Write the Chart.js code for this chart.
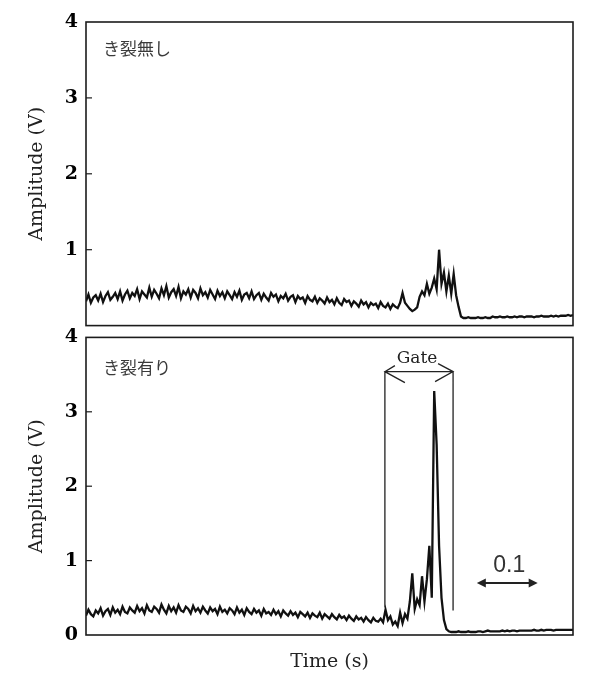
<!DOCTYPE html>
<html>
<head>
<meta charset="utf-8">
<title>Amplitude traces</title>
<script src="https://cdn.jsdelivr.net/npm/chart.js@4.4.1/dist/chart.umd.min.js"></script>
<style>
  html, body { margin: 0; padding: 0; background: #fff; }
  #wrap { position: relative; width: 595px; height: 680px; }
  #wrap canvas { position: absolute; left: 0; }
  #topChart { top: 0; }
  #bottomChart { top: 318px; }
</style>
</head>
<body>
<div id="wrap">
  <canvas id="topChart" width="595" height="345"></canvas>
  <canvas id="bottomChart" width="595" height="362"></canvas>
</div>
<script>
// Sample spacing of the recorded traces (s)
var sampleStep = 0.004;
var timeMax = 0.8;

// Amplitude (V), no crack
var noCrack = [
  0.32, 0.41, 0.30, 0.37, 0.40, 0.33, 0.42, 0.31, 0.39, 0.44,
  0.34, 0.38, 0.43, 0.35, 0.45, 0.33, 0.41, 0.46, 0.36, 0.43,
  0.39, 0.48, 0.35, 0.45, 0.41, 0.37, 0.50, 0.38, 0.47, 0.42,
  0.36, 0.49, 0.40, 0.52, 0.37, 0.44, 0.48, 0.39, 0.51, 0.36,
  0.45, 0.41, 0.48, 0.37, 0.47, 0.43, 0.36, 0.49, 0.40, 0.44,
  0.37, 0.47, 0.41, 0.35, 0.46, 0.39, 0.44, 0.36, 0.45, 0.40,
  0.35, 0.44, 0.38, 0.46, 0.34, 0.41, 0.43, 0.36, 0.45, 0.35,
  0.40, 0.43, 0.34, 0.42, 0.37, 0.33, 0.43, 0.38, 0.41, 0.32,
  0.39, 0.36, 0.42, 0.33, 0.38, 0.40, 0.31, 0.39, 0.35, 0.37,
  0.30, 0.39, 0.34, 0.32, 0.38, 0.30, 0.36, 0.33, 0.29, 0.37,
  0.31, 0.34, 0.28, 0.36, 0.30, 0.27, 0.35, 0.31, 0.33, 0.26,
  0.32, 0.29, 0.25, 0.33, 0.28, 0.31, 0.24, 0.30, 0.27, 0.29,
  0.23, 0.31, 0.26, 0.24, 0.29, 0.22, 0.28, 0.25, 0.23, 0.30,
  0.43, 0.30, 0.26, 0.22, 0.19, 0.21, 0.24, 0.38, 0.45, 0.40,
  0.55, 0.42, 0.50, 0.62, 0.48, 1.00, 0.55, 0.70, 0.45, 0.66,
  0.42, 0.68, 0.40, 0.25, 0.12, 0.10, 0.10, 0.11, 0.10, 0.10,
  0.10, 0.11, 0.10, 0.10, 0.11, 0.10, 0.10, 0.12, 0.11, 0.11,
  0.12, 0.11, 0.11, 0.12, 0.11, 0.11, 0.12, 0.11, 0.12, 0.12,
  0.11, 0.12, 0.12, 0.12, 0.11, 0.12, 0.12, 0.13, 0.12, 0.12,
  0.12, 0.13, 0.12, 0.13, 0.12, 0.13, 0.13, 0.13, 0.14, 0.13, 0.14
];

// Amplitude (V), with crack
var withCrack = [
  0.26, 0.34, 0.28, 0.25, 0.33, 0.29, 0.36, 0.26, 0.32, 0.35,
  0.27, 0.37, 0.30, 0.34, 0.28, 0.38, 0.31, 0.29, 0.37, 0.33,
  0.30, 0.39, 0.32, 0.36, 0.29, 0.40, 0.33, 0.31, 0.38, 0.35,
  0.30, 0.41, 0.34, 0.29, 0.39, 0.32, 0.37, 0.30, 0.40, 0.33,
  0.31, 0.38, 0.35, 0.29, 0.39, 0.32, 0.36, 0.30, 0.38, 0.33,
  0.29, 0.37, 0.32, 0.35, 0.28, 0.38, 0.31, 0.34, 0.29, 0.36,
  0.33, 0.28, 0.37, 0.30, 0.34, 0.27, 0.36, 0.31, 0.28, 0.35,
  0.30, 0.33, 0.26, 0.35, 0.29, 0.31, 0.27, 0.34, 0.28, 0.32,
  0.25, 0.33, 0.29, 0.26, 0.32, 0.27, 0.30, 0.24, 0.31, 0.28,
  0.25, 0.30, 0.23, 0.29, 0.26, 0.24, 0.30, 0.22, 0.28, 0.25,
  0.22, 0.28, 0.24, 0.21, 0.27, 0.23, 0.25, 0.20, 0.26, 0.22,
  0.19, 0.25, 0.21, 0.23, 0.18, 0.24, 0.20, 0.17, 0.23, 0.19,
  0.18, 0.22, 0.17, 0.34, 0.20, 0.25, 0.14, 0.18, 0.12, 0.30,
  0.16, 0.28, 0.22, 0.45, 0.83, 0.35, 0.48, 0.40, 0.79, 0.45,
  0.75, 1.20, 0.50, 3.28, 2.56, 1.20, 0.50, 0.20, 0.08, 0.05,
  0.04, 0.04, 0.04, 0.05, 0.04, 0.04, 0.04, 0.05, 0.04, 0.04,
  0.04, 0.05, 0.05, 0.04, 0.05, 0.06, 0.05, 0.05, 0.05, 0.05,
  0.05, 0.06, 0.05, 0.06, 0.05, 0.06, 0.06, 0.05, 0.06, 0.06,
  0.06, 0.06, 0.06, 0.06, 0.07, 0.06, 0.06, 0.07, 0.06, 0.07,
  0.07, 0.07, 0.06, 0.07, 0.07, 0.07, 0.07, 0.07, 0.07, 0.07, 0.07
];

var yTicks = [0, 1, 2, 3, 4];
var panelLabels = ['き裂無し', 'き裂有り'];

// Gate window (s) and bracket heights (V)
var gateTimes = [0.491, 0.603];
var gateTop = 3.54;
var gateBottoms = [0.37, 0.33];

// 0.1 s scale bar
var scaleBarTimes = [0.642, 0.742];
var scaleBarLevel = 0.70;
var scaleBarText = '0.1';

function toPoints(values) {
    return values.map(function (v, i) {
        return {x: i * sampleStep, y: v};
    });
}

// Frame, inward ticks and annotations
var panelDecor = {
    id: 'panelDecor',
    afterDraw: function (chart, args, opts) {
        var ctx = chart.ctx;
        var a = chart.chartArea;
        var xs = chart.scales.x;
        var ys = chart.scales.y;
        ctx.save();

        ctx.strokeStyle = '#1c1c1c';
        ctx.lineWidth = 1.6;
        ctx.strokeRect(a.left, a.top, a.right - a.left, a.bottom - a.top);

        ctx.lineWidth = 1.2;
        [1, 2, 3].forEach(function (v) {
            var py = ys.getPixelForValue(v);
            ctx.beginPath();
            ctx.moveTo(a.left, py);
            ctx.lineTo(a.left + 6, py);
            ctx.stroke();
        });

        ctx.fillStyle = '#3a3a3a';
        ctx.font = '17px "Noto Sans CJK JP"';
        ctx.textBaseline = 'middle';
        ctx.textAlign = 'left';
        ctx.fillText(opts.label, a.left + 17, a.top + opts.labelDy);

        if (opts.gate) {
            var gl = xs.getPixelForValue(gateTimes[0]);
            var gr = xs.getPixelForValue(gateTimes[1]);
            var gy = ys.getPixelForValue(gateTop);
            ctx.strokeStyle = '#222';
            ctx.lineWidth = 1.3;
            ctx.beginPath();
            ctx.moveTo(gl, ys.getPixelForValue(gateBottoms[0]));
            ctx.lineTo(gl, gy);
            ctx.lineTo(gr, gy);
            ctx.lineTo(gr, ys.getPixelForValue(gateBottoms[1]));
            // arrow heads
            ctx.moveTo(gl + 10, gy - 6);
            ctx.lineTo(gl, gy);
            ctx.lineTo(gl + 20, gy + 11);
            ctx.moveTo(gr - 15, gy - 8);
            ctx.lineTo(gr, gy);
            ctx.lineTo(gr - 18, gy + 10);
            ctx.stroke();

            ctx.fillStyle = '#222';
            ctx.font = '17px "DejaVu Serif"';
            ctx.textAlign = 'center';
            ctx.fillText('Gate', (gl + gr) / 2 - 2, gy - 13);

            // scale bar
            var sl = xs.getPixelForValue(scaleBarTimes[0]);
            var sr = xs.getPixelForValue(scaleBarTimes[1]);
            var sy = ys.getPixelForValue(scaleBarLevel);
            ctx.strokeStyle = '#222';
            ctx.lineWidth = 2;
            ctx.beginPath();
            ctx.moveTo(sl + 4, sy);
            ctx.lineTo(sr - 4, sy);
            ctx.stroke();
            ctx.beginPath();
            ctx.moveTo(sl, sy);
            ctx.lineTo(sl + 9, sy - 4.5);
            ctx.lineTo(sl + 9, sy + 4.5);
            ctx.closePath();
            ctx.moveTo(sr, sy);
            ctx.lineTo(sr - 9, sy - 4.5);
            ctx.lineTo(sr - 9, sy + 4.5);
            ctx.closePath();
            ctx.fill();
            ctx.fillStyle = '#333';
            ctx.font = '23px "Liberation Sans"';
            ctx.fillText(scaleBarText, (sl + sr) / 2 + 2, sy - 17);
        }

        if (opts.xTitle) {
            ctx.fillStyle = '#222';
            ctx.font = '19px "DejaVu Serif"';
            ctx.textAlign = 'center';
            ctx.fillText(opts.xTitle, (a.left + a.right) / 2, a.bottom + 27);
        }
        ctx.restore();
    }
};

function makeOptions(padTop, padBottom, hideZero, decor) {
    return {
        responsive: false,
        animation: false,
        layout: {padding: {left: 0, right: 22, top: padTop, bottom: padBottom}},
        plugins: {
            legend: {display: false},
            tooltip: {enabled: false},
            panelDecor: decor
        },
        scales: {
            x: {type: 'linear', min: 0, max: timeMax, display: false},
            y: {
                min: 0,
                max: 4,
                afterFit: function (s) { s.width = 86; },
                afterBuildTicks: function (s) {
                    s.ticks = yTicks.map(function (v) { return {value: v}; });
                },
                ticks: {
                    padding: 8,
                    color: '#000',
                    font: {family: 'DejaVu Serif', size: 19, weight: 'bold'},
                    callback: function (v) { return (hideZero && v === 0) ? '' : v; }
                },
                grid: {display: false, drawTicks: false},
                border: {display: false},
                title: {
                    display: true,
                    text: 'Amplitude (V)',
                    color: '#222',
                    font: {family: 'DejaVu Serif', size: 19},
                    padding: {top: 26, bottom: 0}
                }
            }
        }
    };
}

function lineSet(values) {
    return {
        data: toPoints(values),
        borderColor: '#111',
        borderWidth: 2.3,
        pointRadius: 0,
        tension: 0,
        fill: false
    };
}

new Chart(document.getElementById('topChart').getContext('2d'), {
    type: 'line',
    data: {datasets: [lineSet(noCrack)]},
    options: makeOptions(22, 15, true, {label: panelLabels[0], labelDy: 27}),
    plugins: [panelDecor]
});

new Chart(document.getElementById('bottomChart').getContext('2d'), {
    type: 'line',
    data: {datasets: [lineSet(withCrack)]},
    options: makeOptions(12, 45, false, {label: panelLabels[1], labelDy: 30, gate: true, xTitle: 'Time (s)'}),
    plugins: [panelDecor]
});
</script>
</body>
</html>
